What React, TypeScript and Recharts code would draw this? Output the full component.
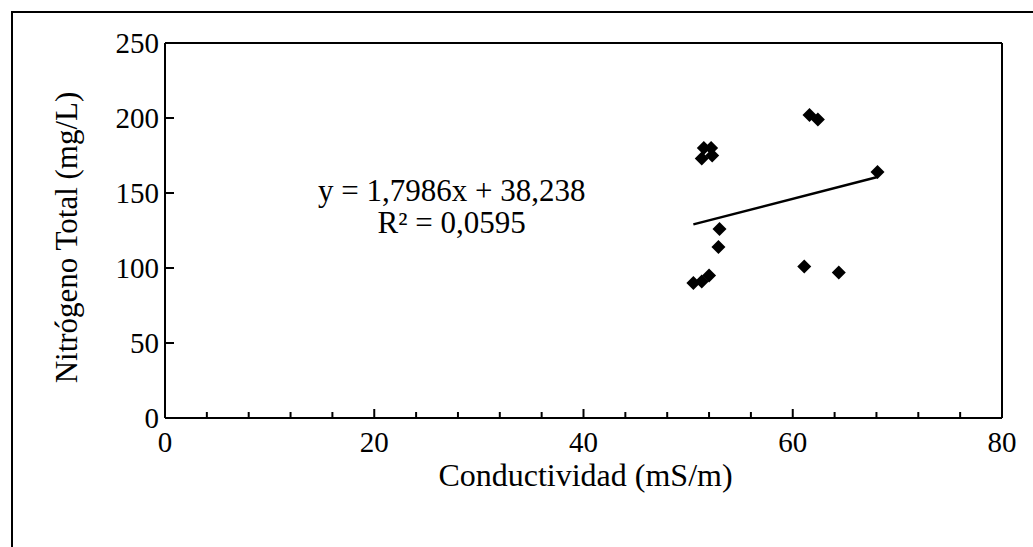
import { ReferenceDot, ReferenceLine, Scatter, ScatterChart, XAxis, YAxis } from 'recharts';

const CONDUCTIVIDAD = [61.6, 62.4, 51.5, 52.2, 51.3, 52.3, 68.1, 53.0, 52.9, 50.5, 51.3, 52.0, 61.1, 64.4];
const NITROGENO = [202, 199, 180, 180, 173, 175, 164, 126, 114, 90, 91, 95, 101, 97];

const X_TICKS = [0, 4, 8, 12, 16, 20, 24, 28, 32, 36, 40, 44, 48, 52, 56, 60, 64, 68, 72, 76, 80];
const X_LABELED = [0, 20, 40, 60, 80];
const Y_TICKS = [0, 50, 100, 150, 200, 250];

// trend line coefficients as printed on the chart
const SLOPE = 1.7986;
const INTERCEPT = 38.238;
const EQ_TEXT = 'y = 1,7986x + 38,238';
const R2_TEXT = 'R² = 0,0595';
const X_TITLE = 'Conductividad (mS/m)';
const Y_TITLE = 'Nitrógeno Total (mg/L)';

const W = 1033;
const H = 547;
const PLOT_LEFT = 165;
const PLOT_BOTTOM = 418;
const FONT = '"Liberation Serif", "Times New Roman", serif';
const FS = 29;
const TITLE_FS = 31;

const points = CONDUCTIVIDAD.map((x, i) => ({ x, y: NITROGENO[i] }));
const xMin = Math.min(...CONDUCTIVIDAD);
const xMax = Math.max(...CONDUCTIVIDAD);
const trend = [
  { x: xMin, y: SLOPE * xMin + INTERCEPT },
  { x: xMax, y: SLOPE * xMax + INTERCEPT },
];

interface TickProps {
  x?: number;
  y?: number;
  payload?: { value: number };
}

function XTick({ x = 0, payload }: TickProps) {
  const v = payload?.value ?? 0;
  const major = X_LABELED.includes(v);
  return (
    <g>
      <line x1={x} x2={x} y1={PLOT_BOTTOM} y2={PLOT_BOTTOM - (major ? 9 : 6)} stroke="#000" strokeWidth={2} />
      {major && (
        <text x={x} y={PLOT_BOTTOM + 24} textAnchor="middle" dominantBaseline="central" fontFamily={FONT} fontSize={FS} fill="#000">
          {v}
        </text>
      )}
    </g>
  );
}

function YTick({ y = 0, payload }: TickProps) {
  return (
    <g>
      <line x1={PLOT_LEFT} x2={PLOT_LEFT + 9} y1={y} y2={y} stroke="#000" strokeWidth={2} />
      <text x={PLOT_LEFT - 6} y={y} textAnchor="end" dominantBaseline="central" fontFamily={FONT} fontSize={FS} fill="#000">
        {payload?.value}
      </text>
    </g>
  );
}

function Diamond({ cx = 0, cy = 0 }: { cx?: number; cy?: number }) {
  const r = 7;
  return <polygon points={`${cx},${cy - r} ${cx + r},${cy} ${cx},${cy + r} ${cx - r},${cy}`} fill="#000" />;
}

function EquationLabel({ viewBox }: { viewBox?: { x: number; y: number } }) {
  if (!viewBox) return null;
  return (
    <text textAnchor="middle" fontFamily={FONT} fontSize={TITLE_FS} fill="#000">
      <tspan x={viewBox.x} y={viewBox.y + 8}>{EQ_TEXT}</tspan>
      <tspan x={viewBox.x} y={viewBox.y + 40}>{R2_TEXT}</tspan>
    </text>
  );
}

function XTitle({ viewBox }: { viewBox?: { x: number; y: number; width: number } }) {
  if (!viewBox) return null;
  return (
    <text x={viewBox.x + viewBox.width / 2 + 2} y={PLOT_BOTTOM + 57} textAnchor="middle" dominantBaseline="central" fontFamily={FONT} fontSize={32} fill="#000">
      {X_TITLE}
    </text>
  );
}

function YTitle({ viewBox }: { viewBox?: { y: number; height: number } }) {
  if (!viewBox) return null;
  const cx = 66;
  const cy = viewBox.y + viewBox.height / 2 + 7;
  return (
    <text x={cx} y={cy} transform={`rotate(-90, ${cx}, ${cy})`} textAnchor="middle" dominantBaseline="central" fontFamily={FONT} fontSize={TITLE_FS} fill="#000">
      {Y_TITLE}
    </text>
  );
}

export default function App() {
  return (
    <div style={{ position: 'absolute', left: 0, top: 0, width: W, height: H, overflow: 'hidden', background: '#fff' }}>
      <div
        style={{
          position: 'absolute',
          left: 11,
          top: 11,
          width: W + 40,
          height: H + 40,
          border: '2px solid #000',
          boxSizing: 'border-box',
        }}
      />
      <div style={{ position: 'absolute', left: 0, top: 0 }}>
        <ScatterChart width={W} height={H} margin={{ top: 43, right: 31, bottom: 69, left: 105 }}>
          <XAxis
            type="number"
            dataKey="x"
            domain={[0, 80]}
            ticks={X_TICKS}
            interval={0}
            height={60}
            axisLine={{ stroke: '#000', strokeWidth: 2 }}
            tickLine={false}
            tick={<XTick />}
            label={<XTitle />}
          />
          <YAxis
            type="number"
            dataKey="y"
            domain={[0, 250]}
            ticks={Y_TICKS}
            interval={0}
            width={60}
            axisLine={{ stroke: '#000', strokeWidth: 2 }}
            tickLine={false}
            tick={<YTick />}
            label={<YTitle />}
          />
          <ReferenceLine y={250} stroke="#000" strokeWidth={2} />
          <ReferenceLine x={80} stroke="#000" strokeWidth={2} />
          <Scatter data={trend} line={{ stroke: '#000', strokeWidth: 2.5 }} shape={() => <g />} isAnimationActive={false} />
          <Scatter data={points} shape={<Diamond />} isAnimationActive={false} />
          <ReferenceDot x={27.4} y={150} r={0} fill="none" stroke="none" label={<EquationLabel />} />
        </ScatterChart>
      </div>
    </div>
  );
}
